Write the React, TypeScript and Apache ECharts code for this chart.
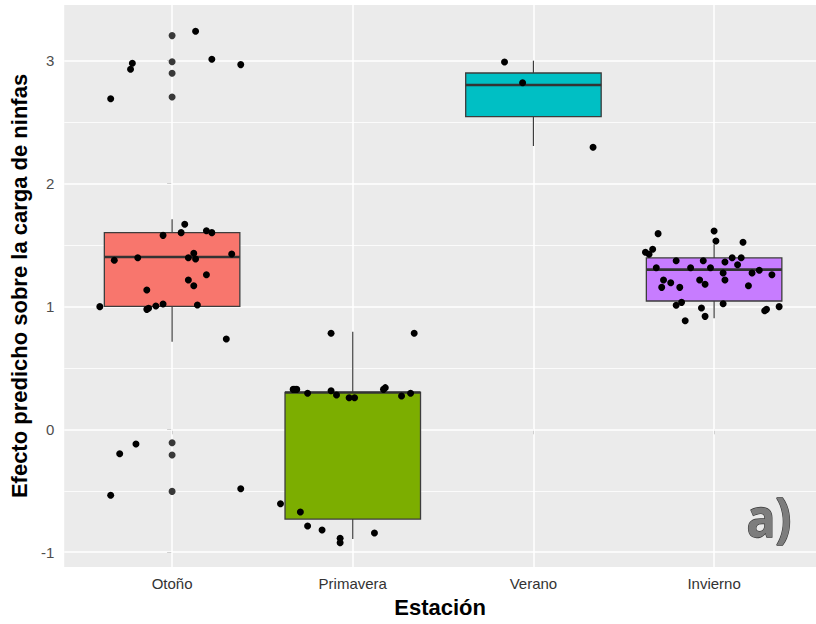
import React, { useEffect, useRef } from "react";
import * as echarts from "echarts";

const categories = ["Otoño", "Primavera", "Verano", "Invierno"];
const boxColors = ["#F8766D", "#7CAE00", "#00BFC4", "#C77CFF"];

// box statistics per season: min, Q1, median, Q3, max
const boxMin = [0.713, -0.893, 2.305, 0.903];
const boxQ1 = [1.0, -0.73, 2.544, 1.044];
const boxMedian = [1.402, 0.3, 2.801, 1.299];
const boxQ3 = [1.6, 0.301, 2.899, 1.394];
const boxMax = [1.709, 0.794, 2.999, 1.505];

// outliers drawn at the category centre
const otonoOutliers = [3.203, 2.991, 2.897, 2.704, -0.109, -0.209, -0.505];

// jittered points: horizontal offset from centre and value
const otonoOffsets = [-0.34, -0.23, -0.22, 0.13, 0.22, 0.38, 0.07, -0.05, 0.05, 0.19, 0.22, -0.32, -0.19, 0.09, 0.12, 0.13, 0.33, 0.19, 0.09, 0.12, -0.14, -0.4, -0.14, -0.13, -0.09, -0.05, 0.14, 0.3, -0.29, -0.2, -0.34, 0.38];
const otonoValues = [2.69, 2.929, 2.978, 3.238, 3.011, 2.967, 1.668, 1.578, 1.6, 1.616, 1.6, 1.375, 1.396, 1.396, 1.432, 1.386, 1.426, 1.258, 1.215, 1.168, 1.133, 0.998, 0.976, 0.985, 1.003, 1.02, 1.011, 0.735, -0.198, -0.12, -0.537, -0.483];

const primaveraOffsets = [-0.12, 0.34, -0.33, -0.32, -0.31, -0.25, -0.12, -0.09, -0.02, 0.01, 0.17, 0.18, 0.27, 0.32, -0.4, -0.29, -0.25, -0.17, -0.07, -0.07, 0.12];
const primaveraValues = [0.781, 0.781, 0.325, 0.325, 0.325, 0.293, 0.314, 0.279, 0.257, 0.257, 0.325, 0.339, 0.271, 0.293, -0.605, -0.673, -0.787, -0.819, -0.887, -0.923, -0.844];

const veranoOffsets = [-0.16, -0.06, 0.33];
const veranoValues = [2.989, 2.82, 2.295];

const inviernoOffsets = [-0.31, 0.0, 0.01, 0.16, -0.38, -0.36, -0.34, -0.21, -0.06, 0.06, 0.1, 0.15, 0.13, -0.32, -0.13, -0.02, 0.05, 0.21, 0.25, 0.32, -0.28, -0.24, -0.29, -0.19, -0.08, -0.05, 0.06, 0.19, -0.21, -0.18, 0.05, -0.07, -0.05, -0.16, 0.28, 0.29, 0.36];
const inviernoValues = [1.592, 1.613, 1.532, 1.522, 1.44, 1.424, 1.465, 1.372, 1.372, 1.361, 1.396, 1.396, 1.339, 1.315, 1.315, 1.315, 1.272, 1.272, 1.294, 1.258, 1.215, 1.193, 1.155, 1.155, 1.215, 1.18, 1.215, 1.168, 1.009, 1.033, 1.022, 0.987, 0.919, 0.884, 0.965, 0.976, 0.998];

const yTicks = [-1, 0, 1, 2, 3];
const yMinor = [-0.5, 0.5, 1.5, 2.5];
const xTicks = [0, 1, 2, 3];

const FONT = "'Liberation Sans', Arial, sans-serif";

function points(index: number, offsets: number[], values: number[]) {
  return values.map((v, k) => [index + offsets[k], v]);
}

export default function App() {
  const ref = useRef<HTMLDivElement>(null);

  useEffect(() => {
    if (!ref.current) return;
    const chart = echarts.init(ref.current, undefined, { renderer: "svg" });

    const boxData = categories.map((_, i) => [i, boxMin[i], boxQ1[i], boxMedian[i], boxQ3[i], boxMax[i]]);
    const jitter = [
      ...points(0, otonoOffsets, otonoValues),
      ...points(1, primaveraOffsets, primaveraValues),
      ...points(2, veranoOffsets, veranoValues),
      ...points(3, inviernoOffsets, inviernoValues),
    ];
    const outliers = otonoOutliers.map((v) => [0, v]);

    const option: any = {
      animation: false,
      backgroundColor: "#ffffff",
      textStyle: { fontFamily: FONT },
      grid: {
        left: 63,
        right: 0,
        top: 5,
        bottom: 57,
        show: true,
        backgroundColor: "#EBEBEB",
        borderWidth: 0,
      },
      xAxis: {
        type: "value",
        min: -0.597,
        max: 3.564,
        axisLine: { show: false },
        axisTick: { show: true, customValues: xTicks, length: 5, lineStyle: { color: "#444", width: 1 } },
        axisLabel: {
          customValues: xTicks,
          formatter: (v: number) => categories[Math.round(v)],
          fontSize: 15,
          color: "#333",
          margin: 9,
          fontFamily: FONT,
        },
        splitLine: { show: false },
        name: "Estación",
        nameLocation: "middle",
        nameGap: 29,
        nameTextStyle: { fontSize: 22, fontWeight: "bold", color: "#000", fontFamily: FONT },
      },
      yAxis: {
        type: "value",
        min: -1.12,
        max: 3.452,
        axisLine: { show: false },
        axisTick: { show: true, customValues: yTicks, length: 5, lineStyle: { color: "#444", width: 1 } },
        axisLabel: {
          customValues: yTicks,
          fontSize: 15,
          color: "#4D4D4D",
          margin: 10,
          fontFamily: FONT,
        },
        splitLine: { show: false },
        name: "Efecto predicho sobre la carga de ninfas",
        nameLocation: "middle",
        nameGap: 30,
        nameRotate: 90,
        nameTextStyle: { fontSize: 22, fontWeight: "bold", color: "#000", fontFamily: FONT },
      },
      series: [
        {
          type: "scatter",
          name: "grid",
          z: 1,
          data: [],
          silent: true,
          markLine: {
            z: 1,
            silent: true,
            symbol: "none",
            animation: false,
            label: { show: false },
            emphasis: { disabled: true },
            data: [
              ...yMinor.map((v) => ({ yAxis: v, lineStyle: { color: "#ffffff", width: 0.8, type: "solid", opacity: 1 } })),
              ...yTicks.map((v) => ({ yAxis: v, lineStyle: { color: "#ffffff", width: 1.5, type: "solid", opacity: 1 } })),
              ...xTicks.map((v) => ({ xAxis: v, lineStyle: { color: "#ffffff", width: 1.5, type: "solid", opacity: 1 } })),
            ],
          },
        },
        {
          type: "custom",
          name: "boxes",
          z: 2,
          data: boxData,
          encode: { x: 0, y: [1, 2, 3, 4, 5] },
          renderItem: (params: any, api: any) => {
            const i = api.value(0);
            const x = api.coord([i, 0])[0];
            const yMin = api.coord([i, api.value(1)])[1];
            const yQ1 = api.coord([i, api.value(2)])[1];
            const yMed = api.coord([i, api.value(3)])[1];
            const yQ3 = api.coord([i, api.value(4)])[1];
            const yMax = api.coord([i, api.value(5)])[1];
            const half = api.size([0.75, 0])[0] / 2;
            const stroke = "#3d3d3d";
            return {
              type: "group",
              children: [
                { type: "line", shape: { x1: x, y1: yQ3, x2: x, y2: yMax }, style: { stroke, lineWidth: 1.2 } },
                { type: "line", shape: { x1: x, y1: yQ1, x2: x, y2: yMin }, style: { stroke, lineWidth: 1.2 } },
                {
                  type: "rect",
                  shape: { x: x - half, y: yQ3, width: half * 2, height: yQ1 - yQ3 },
                  style: { fill: boxColors[i], stroke, lineWidth: 1.3 },
                },
                { type: "line", shape: { x1: x - half, y1: yMed, x2: x + half, y2: yMed }, style: { stroke: "#333", lineWidth: 2.6 } },
              ],
            };
          },
        },
        {
          type: "scatter",
          name: "outliers",
          z: 3,
          data: outliers,
          symbolSize: 7,
          itemStyle: { color: "#383838", opacity: 1 },
          silent: true,
        },
        {
          type: "scatter",
          name: "points",
          z: 4,
          data: jitter,
          symbolSize: 7,
          itemStyle: { color: "#000000", opacity: 1 },
          silent: true,
        },
      ],
      graphic: [
        {
          type: "text",
          x: 769,
          y: 516,
          z: 100,
          scaleY: 1.12,
          style: {
            text: "a)",
            fontSize: 48,
            fontWeight: "bold",
            fontFamily: "'Open Sans', 'Liberation Sans', sans-serif",
            textAlign: "center",
            textVerticalAlign: "middle",
            fill: "#7d7d7d",
            stroke: "#3a3a3a",
            lineWidth: 1.2,
          },
        },
      ],
    };

    chart.setOption(option);
    return () => chart.dispose();
  }, []);

  return <div ref={ref} style={{ position: "fixed", left: 0, top: 0, width: 816, height: 624 }} />;
}
